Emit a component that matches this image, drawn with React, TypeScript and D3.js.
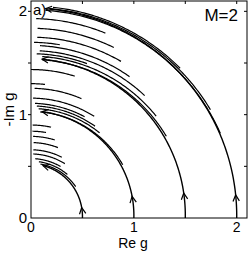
import { useEffect, useRef } from "react";
import * as d3 from "d3";

// main flow lines, start on the real axis
const mainRadius = [0.5, 1, 1.5, 2];
const mainRadiusEnd = [0.52, 1.035, 1.54, 2.03];
const mainEndAngle = [77, 84, 86, 86];
const mainArrowAngle = [11.5, 12, 9.2, 6.4];

// shorter trajectories (radius, start angle, end angle in degrees)
const flowRadius = [2.015, 2.035, 2.05, 1.93, 1.836, 1.75, 1.7, 1.67, 1.62, 1.59, 1.566, 1.535, 1.437, 1.3, 1.255, 1.16, 1.11, 1.085, 1.06, 1.03, 0.9, 0.84, 0.79, 0.73, 0.66, 0.62, 0.575, 0.55, 0.53];
const flowFrom = [24, 31, 45, 68, 64, 60, 80.5, 55, 47, 70, 39, 31, 72.8, 84, 67, 58, 62, 55, 51, 30, 77.5, 80, 73, 69, 63, 58, 60, 50, 35];
const flowTo = [86, 85, 84, 88.5, 88, 88, 89, 87, 87, 88, 86, 86, 90, 90, 88.4, 89, 88, 87, 86, 85, 89, 89, 88.5, 88, 88, 88, 86, 82, 80];

const tickLabels = [0, 1, 2];
const minorTicks = [0.5, 1, 1.5, 2];

const font = "'Liberation Sans', Arial, Helvetica, sans-serif";

export default function App() {
  const ref = useRef<SVGSVGElement>(null);

  useEffect(() => {
    const width = 249;
    const height = 253;
    const margin = { top: 1, right: 2, bottom: 35, left: 31 };

    const svg = d3.select(ref.current);
    svg.selectAll("*").remove();

    const x = d3.scaleLinear().domain([0, 2.1]).range([margin.left, width - margin.right]);
    const y = d3.scaleLinear().domain([0, 2.1]).range([height - margin.bottom, margin.top]);

    const pt = (r: number, deg: number): [number, number] => {
      const a = (deg * Math.PI) / 180;
      return [x(r * Math.cos(a)), y(r * Math.sin(a))];
    };

    const arcPts = (r0: number, r1: number, a0: number, a1: number) => {
      const n = Math.max(2, Math.ceil((a1 - a0) * 2));
      return d3.range(n + 1).map(i => {
        const t = i / n;
        return pt(r0 + (r1 - r0) * t, a0 + (a1 - a0) * t);
      });
    };

    const line = d3.line();

    const g = svg.append("g");

    // chevron arrow with its tip at p, pointing away from q
    const chevron = (p: [number, number], q: [number, number]) => {
      const dx = p[0] - q[0];
      const dy = p[1] - q[1];
      const len = Math.hypot(dx, dy);
      const ux = dx / len;
      const uy = dy / len;
      const L = 7;
      const h = (27 * Math.PI) / 180;
      const arm = (s: number): [number, number] => {
        const c = Math.cos(s * h);
        const sn = Math.sin(s * h);
        return [p[0] - L * (ux * c - uy * sn), p[1] - L * (ux * sn + uy * c)];
      };
      g.append("path")
        .attr("d", line([arm(1), p, arm(-1)]))
        .attr("fill", "none")
        .attr("stroke", "#000")
        .attr("stroke-width", 1.2);
    };

    flowRadius.forEach((r, i) => {
      g.append("path")
        .attr("d", line(arcPts(r, r, flowFrom[i], flowTo[i])))
        .attr("fill", "none")
        .attr("stroke", "#000")
        .attr("stroke-width", 1.2);
    });

    mainRadius.forEach((r0, i) => {
      const r1 = mainRadiusEnd[i];
      const a1 = mainEndAngle[i];
      g.append("path")
        .attr("d", line(arcPts(r0, r1, 0, a1)))
        .attr("fill", "none")
        .attr("stroke", "#000")
        .attr("stroke-width", 1.4);

      const rAt = (a: number) => r0 + ((r1 - r0) * a) / a1;
      const aa = mainArrowAngle[i];
      chevron(pt(rAt(aa), aa), pt(rAt(aa - 2), aa - 2));
      chevron(pt(r1, a1), pt(rAt(a1 - 2), a1 - 2));
    });

    // frame
    svg
      .append("rect")
      .attr("x", x(0))
      .attr("y", y(2.1))
      .attr("width", x(2.1) - x(0))
      .attr("height", y(0) - y(2.1))
      .attr("fill", "none")
      .attr("stroke", "#000")
      .attr("stroke-width", 1);

    const ticks = svg.append("g").attr("stroke", "#000").attr("stroke-width", 1);
    minorTicks.forEach(v => {
      ticks.append("line").attr("x1", x(v)).attr("x2", x(v)).attr("y1", y(2.1)).attr("y2", y(2.1) + 3);
      ticks.append("line").attr("x1", x(2.1)).attr("x2", x(2.1) - 3).attr("y1", y(v)).attr("y2", y(v));
      ticks.append("line").attr("x1", x(0)).attr("x2", x(0) - 3).attr("y1", y(v)).attr("y2", y(v));
    });

    const labels = svg.append("g").attr("font-family", font).attr("fill", "#000");
    tickLabels.forEach(v => {
      labels
        .append("text")
        .attr("x", x(v))
        .attr("y", y(0) + 14)
        .attr("text-anchor", "middle")
        .attr("font-size", 14)
        .text(v);
      labels
        .append("text")
        .attr("x", x(0) - 4)
        .attr("y", y(v) + 5)
        .attr("text-anchor", "end")
        .attr("font-size", 15)
        .text(v);
    });

    labels
      .append("text")
      .attr("x", (x(0) + x(2.1)) / 2 - 6)
      .attr("y", y(0) + 30)
      .attr("text-anchor", "middle")
      .attr("font-size", 14)
      .text("Re g");

    labels
      .append("text")
      .attr("transform", `translate(14,${y(1.05)}) rotate(-90)`)
      .attr("text-anchor", "middle")
      .attr("font-size", 15)
      .text("-Im g");

    labels
      .append("text")
      .attr("x", x(0) + 2)
      .attr("y", 15)
      .attr("font-size", 15)
      .text("a)");

    labels
      .append("text")
      .attr("x", x(2.1) - 9)
      .attr("y", 21)
      .attr("text-anchor", "end")
      .attr("font-size", 17)
      .text("M=2");
  }, []);

  return (
    <svg
      ref={ref}
      width={249}
      height={253}
      style={{ position: "absolute", left: 0, top: 0, background: "#fff" }}
    />
  );
}
